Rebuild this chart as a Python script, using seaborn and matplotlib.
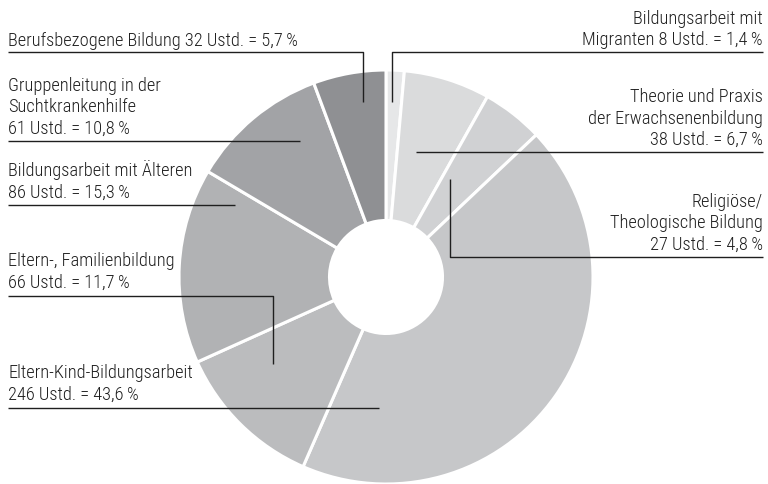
import matplotlib
matplotlib.use("Agg")
import matplotlib.pyplot as plt
import seaborn as sns

# Daten (im Uhrzeigersinn ab 12 Uhr)
themen = ['Bildungsarbeit mit\nMigranten', 'Theorie und Praxis\nder Erwachsenenbildung',
          'Religiöse/\nTheologische Bildung', 'Eltern-Kind-Bildungsarbeit',
          'Eltern-, Familienbildung', 'Bildungsarbeit mit Älteren',
          'Gruppenleitung in der\nSuchtkrankenhilfe', 'Berufsbezogene Bildung']
stunden = [8, 38, 27, 246, 66, 86, 61, 32]
prozent = ['1,4', '6,7', '4,8', '43,6', '11,7', '15,3', '10,8', '5,7']
farben = ['#e6e7e8', '#dadbdc', '#d0d1d3', '#c6c7c9', '#bbbcbe', '#b1b2b4', '#a2a3a6', '#8f9093']

# Beschriftungen: Zeilen, Ausrichtung, x, Grundlinie der letzten Zeile, Linienverlauf
beschriftung = [
    (['Bildungsarbeit mit', 'Migranten {} Ustd. = {}\u2009%'], 'right', 763, 45,
     [(392, 103), (392, 53), (763, 53)]),
    (['Theorie und Praxis', 'der Erwachsenenbildung', '{} Ustd. = {}\u2009%'], 'right', 763, 145,
     [(416, 153), (763, 153)]),
    (['Religiöse/', 'Theologische Bildung', '{} Ustd. = {}\u2009%'], 'right', 763, 250,
     [(450, 180), (450, 258), (763, 258)]),
    (['Eltern-Kind-Bildungsarbeit', '{} Ustd. = {}\u2009%'], 'left', 8, 400,
     [(8, 409), (379, 409)]),
    (['Eltern-, Familienbildung', '{} Ustd. = {}\u2009%'], 'left', 8, 288,
     [(8, 297), (273, 297), (273, 365)]),
    (['Bildungsarbeit mit Älteren', '{} Ustd. = {}\u2009%'], 'left', 8, 198,
     [(8, 206), (235, 206)]),
    (['Gruppenleitung in der', 'Suchtkrankenhilfe', '{} Ustd. = {}\u2009%'], 'left', 8, 134,
     [(8, 142), (300, 142)]),
    (['Berufsbezogene Bildung {} Ustd. = {}\u2009%'], 'left', 8, 46,
     [(8, 53), (363, 53), (363, 103)]),
]

sns.set_theme(style='white')
plt.rcParams['font.family'] = ['Roboto Condensed', 'DejaVu Sans']

fig = plt.figure(figsize=(7.68, 4.85), dpi=100)
ax = fig.add_axes([0, 0, 1, 1])

mitte = (386, 278)
aussen = 207
innen = 56.5

ax.pie(stunden, colors=farben, startangle=-90, counterclock=True,
       center=mitte, radius=aussen,
       wedgeprops=dict(width=aussen - innen, edgecolor='white', linewidth=2.2))

zeilenabstand = 21.5
for i, (zeilen, ha, x, grund, pfad) in enumerate(beschriftung):
    n = len(zeilen)
    for k, z in enumerate(zeilen):
        if '{}' in z:
            z = z.format(stunden[i], prozent[i])
        y = grund - (n - 1 - k) * zeilenabstand
        ax.text(x, y, z, ha=ha, va='baseline', fontsize=13.2, fontweight='light', color='#1e1e1e')
    xs = [p[0] for p in pfad]
    ys = [p[1] for p in pfad]
    ax.plot(xs, ys, color='#1f1f1f', linewidth=1.0, solid_capstyle='butt')

ax.set_xlim(0, 768)
ax.set_ylim(485, 0)
ax.set_aspect('equal')
ax.axis('off')

fig.savefig('out.png', dpi=100)
